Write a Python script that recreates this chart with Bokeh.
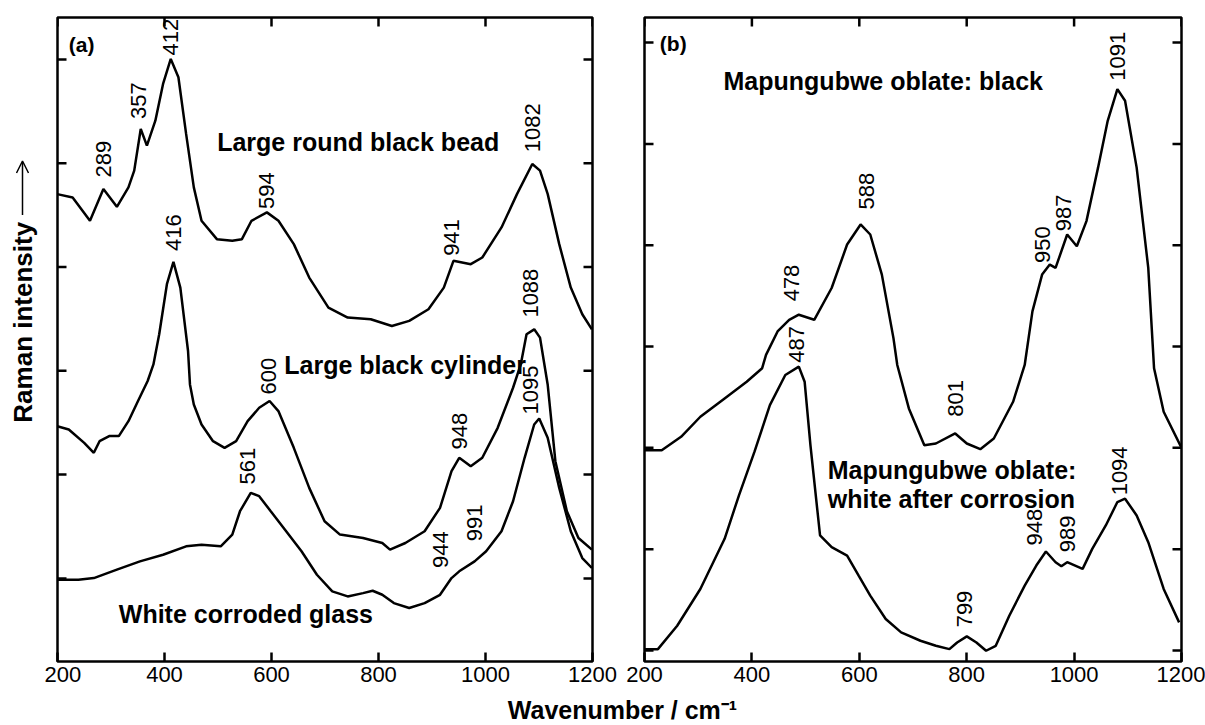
import math
from bokeh.plotting import figure
from bokeh.models import FixedTicker, Range1d, Label, Arrow, OpenHead, ColumnDataSource
from bokeh.layouts import column, row
from bokeh.embed import file_html
from bokeh.resources import INLINE
from bokeh.core.properties import value

FONT = "Liberation Sans"

# ---------------- Panel (a) data ----------------
bead_x = [199.5, 228.3, 260.7, 285.8, 311.0, 332.6, 343.4, 355.6, 367.1, 382.9, 397.3, 411.7, 426.0,
          440.4, 454.8, 469.2, 497.9, 526.7, 544.7, 562.6, 591.4, 613.0, 641.7, 670.5, 706.4, 742.4,
          785.5, 825.0, 857.4, 893.4, 922.1, 940.1, 972.5, 994.0, 1029.9, 1058.8, 1087.5, 1101.9,
          1116.3, 1137.8, 1159.4, 1180.9, 1198.9]
bead_y = [4.703, 4.671, 4.446, 4.752, 4.581, 4.768, 4.929, 5.331, 5.170, 5.411, 5.765, 6.006, 5.829,
          5.283, 4.768, 4.446, 4.269, 4.253, 4.269, 4.446, 4.527, 4.446, 4.221, 3.899, 3.609, 3.513,
          3.497, 3.432, 3.481, 3.593, 3.802, 4.060, 4.028, 4.092, 4.382, 4.703, 4.993, 4.929,
          4.703, 4.221, 3.802, 3.545, 3.400]

cyl_x = [199.5, 221.1, 249.9, 267.9, 278.6, 296.6, 314.6, 332.6, 350.5, 368.5, 379.3, 390.1, 404.5,
         416.7, 429.6, 444.0, 447.6, 454.8, 469.2, 490.7, 512.3, 533.9, 555.4, 577.0, 596.4, 612.9,
         641.7, 670.5, 699.2, 728.0, 771.1, 807.1, 821.5, 850.2, 886.2, 915.0, 936.5, 950.9, 972.4,
         994.0, 1022.8, 1051.5, 1065.9, 1076.7, 1091.1, 1101.9, 1109.0, 1116.2, 1130.6, 1152.1,
         1173.7, 1198.9]
cyl_y = [2.467, 2.435, 2.306, 2.210, 2.322, 2.371, 2.371, 2.515, 2.709, 2.902, 3.062, 3.352, 3.835,
         4.050, 3.802, 3.191, 2.869, 2.676, 2.483, 2.322, 2.258, 2.322, 2.515, 2.644, 2.709, 2.612,
         2.258, 1.872, 1.550, 1.422, 1.389, 1.341, 1.277, 1.341, 1.454, 1.679, 2.033, 2.162, 2.081,
         2.162, 2.451, 2.837, 3.062, 3.352, 3.400, 3.320, 3.095, 2.869, 2.129, 1.647,
         1.389, 1.277]

glass_x = [199.5, 239.1, 267.9, 311.0, 354.1, 397.3, 440.4, 469.2, 505.1, 526.7, 541.1, 561.2, 577.0,
           598.6, 627.4, 656.1, 684.9, 713.6, 742.4, 771.1, 789.1, 807.1, 828.7, 857.4, 886.2, 915.0,
           936.5, 950.9, 979.6, 1001.2, 1029.9, 1051.5, 1073.1, 1091.0, 1100.4, 1116.2, 1137.8,
           1159.4, 1180.9, 1198.9]
glass_y = [0.987, 0.987, 1.003, 1.084, 1.164, 1.228, 1.309, 1.325, 1.309, 1.422, 1.647, 1.824, 1.792,
           1.647, 1.454, 1.261, 1.035, 0.875, 0.826, 0.858, 0.881, 0.842, 0.762, 0.714, 0.762, 0.842,
           1.003, 1.068, 1.164, 1.261, 1.454, 1.743, 2.162, 2.483, 2.541, 2.355, 1.872,
           1.454, 1.196, 1.100]

a_peak_text = ["412", "357", "289", "594", "941", "1082", "416", "1088", "600", "948", "1095",
               "561", "944", "991"]
a_peak_x = [411.7, 350.5, 285.8, 591.4, 936.5, 1087.5, 416.7, 1083.9, 595.0, 950.9, 1083.9,
            555.5, 915.0, 979.6]
a_peak_y = [6.04, 5.427, 4.864, 4.559, 4.108, 5.106, 4.156, 3.513, 2.773, 2.242, 2.580,
            1.904, 1.100, 1.357]

a_label_text = ["(a)", "Large round black bead", "Large black cylinder", "White corroded glass"]
a_label_x = [221.0, 498.5, 623.8, 314.6]
a_label_y = [6.146, 5.202, 3.056, 0.652]

# ---------------- Panel (b) data ----------------
black_x = [199.8, 232.1, 268.1, 304.0, 349.2, 390.3, 419.1, 426.3, 447.8, 469.4, 487.4, 516.1, 548.5,
           577.3, 602.4, 620.4, 642.0, 663.6, 670.7, 692.3, 721.1, 742.6, 778.6, 800.2, 825.3, 850.5,
           886.4, 908.0, 922.4, 940.4, 954.7, 965.5, 987.1, 1005.1, 1023.0, 1044.6, 1062.6, 1080.6,
           1094.9, 1116.5, 1138.1, 1148.9, 1166.8, 1199.2]
black_y = [1.977, 1.977, 2.109, 2.307, 2.488, 2.653, 2.786, 2.918, 3.149, 3.264, 3.314, 3.264, 3.578,
           4.007, 4.205, 4.106, 3.710, 3.083, 2.818, 2.389, 2.026, 2.043, 2.142, 2.043, 1.987, 2.092,
           2.455, 2.818, 3.347, 3.710, 3.809, 3.776, 4.106, 3.990, 4.238, 4.766, 5.228, 5.541,
           5.426, 4.766, 3.776, 2.785, 2.356, 2.010]

white_x = [199.8, 225.0, 260.9, 304.0, 349.2, 375.9, 404.7, 433.5, 462.2, 487.4, 498.2, 509.0, 526.9,
           548.5, 577.3, 598.8, 620.4, 649.2, 677.9, 713.9, 742.6, 767.8, 782.2, 800.2, 818.1, 836.1,
           854.1, 879.3, 908.0, 929.6, 947.5, 965.5, 976.3, 987.1, 1015.9, 1033.8, 1059.0, 1080.6,
           1094.9, 1116.5, 1138.1, 1166.8, 1195.6]
white_y = [0.013, 0.013, 0.244, 0.607, 1.102, 1.531, 1.960, 2.422, 2.719, 2.802, 2.653, 2.026, 1.135,
           1.020, 0.937, 0.739, 0.541, 0.310, 0.178, 0.096, 0.046, 0.013, 0.079, 0.139, 0.079, -0.003,
           0.046, 0.343, 0.640, 0.838, 0.977, 0.871, 0.832, 0.871, 0.805, 1.003, 1.234, 1.465,
           1.498, 1.333, 1.069, 0.607, 0.277]

b_peak_text = ["1091", "588", "950", "987", "478", "487", "801", "1094", "948", "989", "799"]
b_peak_x = [1080.6, 613.2, 940.4, 980.0, 473.0, 483.8, 778.6, 1084.0, 926.0, 987.1, 796.6]
b_peak_y = [5.624, 4.353, 3.825, 4.139, 3.446, 2.84, 2.307, 1.531, 1.036, 0.970, 0.228]

b_label_text = ["(b)", "Mapungubwe oblate: black", "Mapungubwe oblate:", "white after corrosion"]
b_label_x = [228.5, 347.2, 541.3, 541.3]
b_label_y = [5.99, 5.624, 1.782, 1.498]

x_ticks = [200, 400, 600, 800, 1000, 1200]
a_y_ticks = [1, 2, 3, 4, 5, 6]
b_y_ticks = [0, 1, 2, 3, 4, 5, 6]

LW = 2.5
H1 = 691
H2 = 34


def make_panel(width, yr, yticks, mbl, mbr):
    p = figure(width=width, height=H1, x_range=Range1d(200, 1200), y_range=Range1d(*yr),
               output_backend="svg", toolbar_location=None, title=None, x_axis_location="below",
               y_axis_location=None,
               min_border_left=mbl, min_border_right=mbr, min_border_top=17, min_border_bottom=30)
    p.grid.visible = False
    p.outline_line_color = "black"
    p.outline_line_width = LW
    p.background_fill_color = "white"
    p.border_fill_color = "white"
    ax = p.xaxis[0]
    ax.ticker = FixedTicker(ticks=x_ticks)
    ax.major_tick_in = 9
    ax.major_tick_out = 0
    ax.major_tick_line_width = LW
    ax.major_tick_line_color = "black"
    ax.minor_tick_line_color = None
    ax.axis_line_color = None
    ax.major_label_text_font = FONT
    ax.major_label_text_font_size = "22px"
    ax.major_label_text_color = "black"
    ax.major_label_standoff = 5
    # inward ticks on left, right (y) and top (x), clipped to the frame
    lo, hi = yr
    p.scatter([200] * len(yticks), yticks, marker="dash", size=18, line_color="black", line_width=LW)
    p.scatter([1200] * len(yticks), yticks, marker="dash", size=18, line_color="black", line_width=LW)
    p.scatter(x_ticks, [hi] * len(x_ticks), marker="dash", size=18, angle=math.pi / 2,
              line_color="black", line_width=LW)
    return p


pA = make_panel(574, (0.199, 6.405), a_y_ticks, 13, 26)
pB = make_panel(587, (-0.109, 6.248), b_y_ticks, 26, 24)

for xs, ys in [(bead_x, bead_y), (cyl_x, cyl_y), (glass_x, glass_y)]:
    pA.line(xs, ys, line_color="black", line_width=LW)
for xs, ys in [(black_x, black_y), (white_x, white_y)]:
    pB.line(xs, ys, line_color="black", line_width=LW)

for p, tx, px, py in [(pA, a_peak_text, a_peak_x, a_peak_y), (pB, b_peak_text, b_peak_x, b_peak_y)]:
    src = ColumnDataSource(dict(x=px, y=py, t=tx))
    p.text(x="x", y="y", text="t", source=src, angle=math.pi / 2, text_align="left",
           text_baseline="middle", text_font=value(FONT), text_font_size="22px", text_color="black")

for p, tx, px, py in [(pA, a_label_text, a_label_x, a_label_y), (pB, b_label_text, b_label_x, b_label_y)]:
    for t, x, y in zip(tx, px, py):
        size = "21px" if t.startswith("(") else "25px"
        p.add_layout(Label(x=x, y=y, text=t, text_font=FONT, text_font_size=size,
                           text_font_style="bold", text_align="left", text_baseline="alphabetic",
                           text_color="black"))

# y-axis title with arrow (own narrow canvas, pixel-like coordinates)
pY = figure(width=44, height=H1, x_range=Range1d(0, 44), y_range=Range1d(0, H1),
            output_backend="svg", toolbar_location=None, title=None, min_border=0,
            x_axis_location=None, y_axis_location=None)
pY.grid.visible = False
pY.outline_line_color = None
pY.add_layout(Label(x=22, y=H1 - 327, text="Raman intensity", angle=math.pi / 2, text_font=FONT,
                    text_font_size="26px", text_font_style="bold", text_align="center",
                    text_baseline="middle", text_color="black"))
pY.add_layout(Arrow(end=OpenHead(size=12, line_width=1.5, line_color="black"),
                    x_start=22, y_start=H1 - 212, x_end=22, y_end=H1 - 154,
                    line_width=1.5, line_color="black"))

# shared x-axis title
pLab = figure(width=1205, height=H2, x_range=Range1d(0, 1205), y_range=Range1d(0, H2),
              output_backend="svg", toolbar_location=None, title=None, min_border=0,
              x_axis_location=None, y_axis_location=None)
pLab.grid.visible = False
pLab.outline_line_color = None
pLab.add_layout(Label(x=622, y=16, text="Wavenumber / cm\u207b\u00b9", text_font=FONT,
                      text_font_size="25px", text_font_style="bold", text_align="center",
                      text_baseline="middle", text_color="black"))

layout = column(row(pY, pA, pB), pLab)
open("out.html", "w").write(file_html(layout, INLINE))
